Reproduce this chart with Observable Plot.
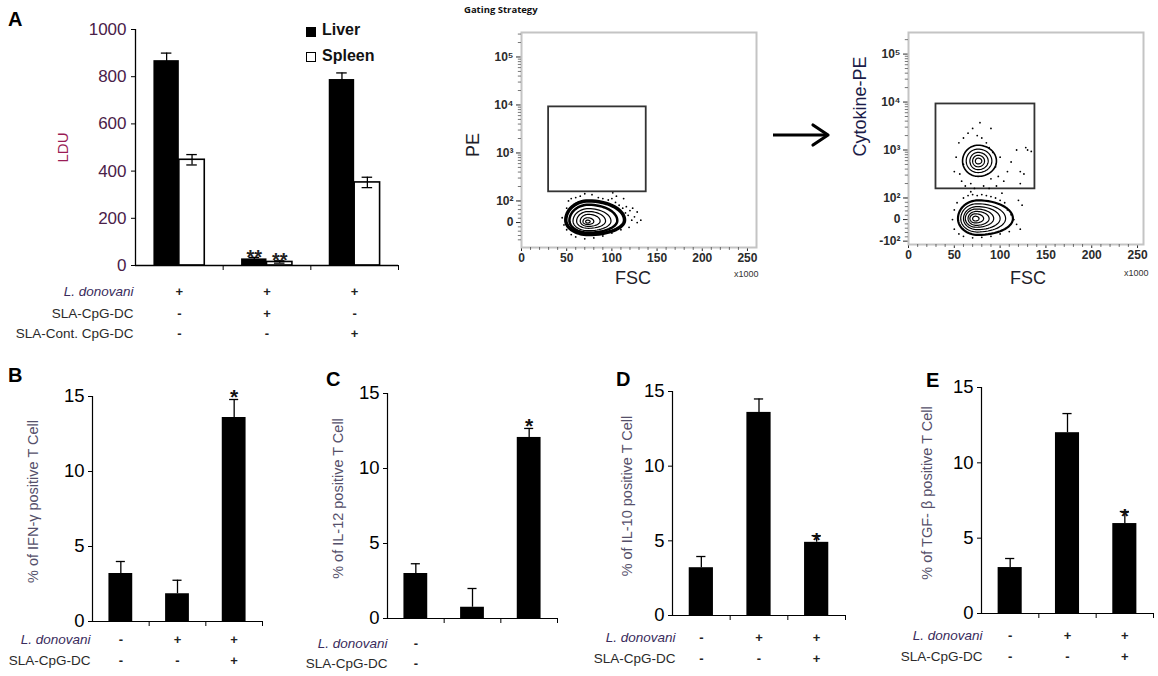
<!DOCTYPE html>
<html><head><meta charset="utf-8">
<script src="https://cdn.jsdelivr.net/npm/d3@7"></script>
<script src="https://cdn.jsdelivr.net/npm/@observablehq/plot@0.6"></script>
<style>
body{margin:0;background:#fff;}
#root{position:relative;width:1158px;height:676px;overflow:hidden;background:#fff;font-family:Arial,"Liberation Sans",sans-serif;}
.letter{position:absolute;font:bold 20px Arial,"Liberation Sans",sans-serif;line-height:20px;color:#000;}
</style></head><body><div id="root"></div>
<script>
// ---------------- DATA ----------------
// Panel A: LDU
const groupsA = ["G1", "G2", "G3"];
const liver = [868, 28, 788];
const liverErr = [32, 6, 28];
const spleen = [448, 15, 352];
const spleenErr = [22, 5, 22];
const sigA = ["", "**", ""];
const yTicksA = [0, 200, 400, 600, 800, 1000];
const rowLabelsA = ["L. donovani", "SLA-CpG-DC", "SLA-Cont. CpG-DC"];
const signsA = [["+", "+", "+"], ["-", "+", "-"], ["-", "-", "+"]];

// Panels B-E: % positive T cells
const ifng = [3.2, 1.85, 13.6];
const ifngErr = [0.8, 0.9, 1.2];
const il12 = [3.0, 0.75, 12.07];
const il12Err = [0.65, 1.25, 0.6];
const il10 = [3.2, 13.6, 4.9];
const il10Err = [0.75, 0.9, 0.45];
const tgfb = [3.05, 12.0, 5.97];
const tgfbErr = [0.6, 1.27, 0.8];
const sigCyt = ["", "", "*"];
const sigD = ["", "", "*"];
const yTicksCyt = [0, 5, 10, 15];
const rowLabelsCyt = ["L. donovani", "SLA-CpG-DC"];
const signsCyt = [["-", "+", "+"], ["-", "-", "+"]];
const signsC = [["-", "", ""], ["-", "", ""]];

// Gating strategy (FSC x1000 vs PE, display units: 0 -> 0, 10^2 -> 0.45, one unit per decade)
const fscTicks = [0, 50, 100, 150, 200, 250];
const peTickVals = [-0.45, 0, 0.45, 1.45, 2.45, 3.45];
const peTickText = ["-10²", "0", "10²", "10³", "10⁴", "10⁵"];
const gate = {x1: 30, x2: 138, y1: 0.64, y2: 2.41};
// contour rings: [cx, cy, rxLeft, rxRight, ryBottom, ryTop, strokeWidth]
const p1Rings = [
  [74, 0.05, 25, 40, 0.30, 0.40, 3.5],
  [74, 0.04, 21, 32, 0.25, 0.33, 2.5],
  [74, 0.03, 17, 25, 0.20, 0.26, 1.2],
  [74, 0.03, 13, 19, 0.15, 0.20, 1.2],
  [74, 0.03, 9, 13, 0.11, 0.14, 1.2],
  [73, 0.02, 5, 7, 0.06, 0.08, 1.2],
  [73, 0.02, 2, 3, 0.03, 0.03, 1.2]
];
const p1Scatter = [[45,0.1],[47,-0.05],[50,0.3],[52,0.45],[55,0.5],[60,0.52],[65,0.55],[70,0.6],[78,0.58],[85,0.52],[90,0.5],[96,0.47],[100,0.5],[104,0.42],[108,0.36],[112,0.3],[115,0.2],[118,0.15],[120,0.25],[122,0.05],[125,0.12],[128,0.0],[132,0.05],[119,-0.1],[110,-0.15],[100,-0.22],[90,-0.28],[80,-0.32],[70,-0.34],[60,-0.3],[55,-0.25],[50,-0.15],[105,0.55],[113,0.5],[128,0.22],[101,0.62],[116,0.33],[123,0.3]];
const p2UpperRings = [
  [76, 1.22, 17, 20, 0.32, 0.33, 1.6],
  [76, 1.22, 13, 15, 0.24, 0.25, 1.2],
  [76, 1.22, 9, 11, 0.18, 0.18, 1.2],
  [76, 1.22, 6, 7, 0.12, 0.12, 1.2],
  [76, 1.22, 3, 4, 0.06, 0.06, 1.2]
];
const p2LowerRings = [
  [76, 0.02, 22, 38, 0.34, 0.38, 2.2],
  [75, 0.02, 18, 31, 0.28, 0.31, 1.2],
  [75, 0.02, 15, 25, 0.23, 0.25, 1.2],
  [74, 0.02, 12, 19, 0.18, 0.2, 1.2],
  [74, 0.02, 9, 14, 0.14, 0.15, 1.2],
  [73, 0.02, 6, 9, 0.09, 0.1, 1.2],
  [73, 0.02, 3, 4, 0.05, 0.05, 1.2]
];
const p2Scatter = [[50,1.0],[52,1.3],[55,1.6],[58,0.8],[60,1.7],[62,0.7],[65,1.8],[68,0.75],[70,1.9],[72,0.65],[75,1.75],[78,2.02],[80,1.7],[82,0.7],[85,1.6],[88,1.5],[90,0.85],[92,1.4],[95,1.1],[98,0.9],[100,1.3],[104,0.8],[108,1.0],[112,1.2],[118,1.45],[122,0.75],[126,0.95],[130,1.45],[134,1.42],[128,1.5],[96,0.7],[88,0.65],[60,1.15],[56,0.95],[90,1.9],[122,1.0],
  [48,0.0],[50,0.2],[50,-0.2],[53,0.35],[55,-0.3],[60,0.45],[65,0.5],[70,0.52],[75,0.5],[80,0.52],[85,0.5],[90,0.48],[95,0.45],[100,0.4],[105,0.35],[108,0.2],[112,0.1],[115,0.0],[118,-0.1],[122,-0.2],[110,-0.25],[100,-0.3],[90,-0.35],[80,-0.37],[70,-0.38],[60,-0.35],[124,0.3],[120,0.4],[102,0.55],[68,0.58]];

// ---------------- HELPERS ----------------
const root = document.getElementById("root");
const FONT = "Arial, 'Liberation Sans', sans-serif";
function put(node, left, top) {
  node.style.position = "absolute";
  node.style.left = left + "px";
  node.style.top = top + "px";
  root.appendChild(node);
  return node;
}
function label(text, left, top, css) {
  const el = document.createElement("div");
  el.textContent = text;
  el.style.cssText = "position:absolute;white-space:nowrap;left:" + left + "px;top:" + top + "px;" + (css || "");
  root.appendChild(el);
  return el;
}
function colorTickLabels(svg, color) {
  svg.querySelectorAll('[aria-label$="tick label"]').forEach(g => g.setAttribute("fill", color));
}

// ---------------- PANEL A ----------------
(function () {
  const bw = 0.29, cap = 0.06;
  const liv = liver.map((v, i) => ({i, v, e: liverErr[i], s: sigA[i], x1: i + 0.5 - bw, x2: i + 0.5}));
  const spl = spleen.map((v, i) => ({i, v, e: spleenErr[i], s: sigA[i], x1: i + 0.5, x2: i + 0.5 + bw}));
  const both = liv.concat(spl);
  const mid = d => (d.x1 + d.x2) / 2;
  const rowDy = [26, 48, 68];
  const marks = [
    Plot.rect(liv, {x1: "x1", x2: "x2", y1: () => 0, y2: "v", fill: "#000"}),
    Plot.rect(spl, {x1: "x1", x2: "x2", y1: () => 0, y2: "v", fill: "#fff", stroke: "#000", strokeWidth: 1.6}),
    Plot.ruleX(both, {x: mid, y1: d => d.v - d.e, y2: d => d.v + d.e, stroke: "#000", strokeWidth: 1.3}),
    Plot.ruleY(both, {y: d => d.v + d.e, x1: d => mid(d) - cap, x2: d => mid(d) + cap, stroke: "#000", strokeWidth: 1.3}),
    Plot.ruleY(spl, {y: d => d.v - d.e, x1: d => mid(d) - cap, x2: d => mid(d) + cap, stroke: "#000", strokeWidth: 1.3}),
    Plot.ruleX([0], {stroke: "#000", strokeWidth: 1.3}),
    Plot.ruleY([0], {stroke: "#000", strokeWidth: 1.3}),
    Plot.text(both.filter(d => d.s), {x: mid, y: d => d.v + d.e, text: "s", dy: 0, fontSize: 20, fontWeight: "bold", fill: "#222"}),
    Plot.text(["LDU"], {x: () => 0, y: () => 500, text: d => d, dx: -72, rotate: -90, fontSize: 15, fill: "#9a1c55"})
  ];
  rowLabelsA.forEach((lab, r) => {
    marks.push(Plot.text([lab], {x: () => 0, y: () => 0, text: d => d, dx: -2, dy: rowDy[r], textAnchor: "end", fontSize: 13.5,
      fontStyle: r === 0 ? "italic" : "normal", fill: r === 0 ? "#3a2c5c" : "#2a2a2a"}));
    marks.push(Plot.text(signsA[r], {x: (d, i) => i + 0.5, y: () => 0, text: d => d, dy: rowDy[r], fontSize: 13, fontWeight: "bold", fill: "#222"}));
  });
  const svg = Plot.plot({
    width: 418, height: 345, marginLeft: 135, marginTop: 29, marginRight: 20, marginBottom: 80,
    x: {domain: [0, 3], ticks: [1, 2, 3], tickSize: 5, tickFormat: () => "", label: null},
    y: {domain: [0, 1000], ticks: yTicksA, tickFormat: d => String(d), tickSize: 4, tickPadding: 5, label: null},
    style: {fontFamily: FONT, fontSize: "17px", background: "transparent", overflow: "visible", color: "#000"},
    marks
  });
  colorTickLabels(svg, "#4a2048");
  put(svg, 0, 0);
  // legend
  const sq1 = document.createElement("div");
  sq1.style.cssText = "width:10px;height:10px;background:#000;";
  put(sq1, 306, 27);
  const sq2 = document.createElement("div");
  sq2.style.cssText = "width:10px;height:10px;background:#fff;border:1.5px solid #000;box-sizing:border-box;";
  put(sq2, 306, 52);
  label("Liver", 322, 22, "font:bold 16px " + FONT + ";line-height:16px;color:#111;");
  label("Spleen", 322, 48, "font:bold 16px " + FONT + ";line-height:16px;color:#111;");
  const a = label("A", 8, 9, ""); a.className = "letter";
})();

// ---------------- GATING ----------------
label("Gating Strategy", 464, 3, "font:bold 9.5px 'Open Sans'," + FONT + ";color:#111;");

function gatePlot(o) {
  const marks = [
    Plot.frame({stroke: "#c4c4c4", strokeWidth: 2}),
    Plot.ruleX(d3.range(10, 260, 10).filter(v => v % 50 !== 0 && v <= o.xMax), {x: d => d, y1: () => o.yMin, y2: () => o.yMin - 0.06, stroke: "#666"})
  ];
  // minor PE ticks (log decades and linear region)
  const minor = [];
  for (let n = 0; n < 4; n++) for (let k = 2; k <= 9; k++) {
    const d = 0.45 + n + Math.log10(k);
    if (d < o.yMax) minor.push(d);
  }
  for (let d = -0.36; d < 0.45; d += 0.09) if (Math.abs(d) > 0.01 && d > o.yMin) minor.push(d);
  marks.push(Plot.ruleY(minor, {y: d => d, x1: () => -3.5, x2: () => 0, stroke: "#777"}));
  marks.push(Plot.rect([gate], {x1: "x1", x2: "x2", y1: "y1", y2: "y2", fill: "none", stroke: "#333", strokeWidth: 1.8}));
  marks.push(Plot.dot(o.scatter, {x: d => d[0], y: d => d[1], r: 0.9, fill: "#000", stroke: "none"}));
  o.rings.forEach(r => {
    const [cx, cy, rxL, rxR, ryB, ryT, w] = r;
    const pts = d3.range(0, 65).map(a => {
      const t = a / 64 * 2 * Math.PI, c = Math.cos(t), s = Math.sin(t);
      return {x: cx + (c >= 0 ? rxR : rxL) * c, y: cy + (s >= 0 ? ryT : ryB) * s};
    });
    marks.push(Plot.line(pts, {x: "x", y: "y", stroke: "#000", strokeWidth: w}));
  });
  marks.push(Plot.text([o.ylabel], {frameAnchor: "left", text: d => d, dx: -48, dy: o.ylabelDy, rotate: -90, fontSize: 18, fontWeight: "normal", fill: o.ylabelColor}));
  marks.push(Plot.text(["FSC"], {frameAnchor: "bottom", text: d => d, dx: o.fscDx, dy: o.fscDy, fontSize: 18, fontWeight: "normal", fill: "#1e1e2a"}));
  marks.push(Plot.text(["x1000"], {frameAnchor: "bottom-right", text: d => d, textAnchor: "end", dx: o.kDx, dy: o.kDy, fontSize: 9, fontWeight: "normal", fill: "#333"}));
  const map = new Map(peTickVals.map((v, i) => [v, peTickText[i]]));
  const svg = Plot.plot({
    width: o.mL + o.innerW + o.mR, height: 12 + o.innerH + 45,
    marginLeft: o.mL, marginTop: 12, marginRight: o.mR, marginBottom: 45,
    x: {domain: [0, o.xMax], ticks: fscTicks, tickSize: 4, tickPadding: 2, label: null},
    y: {domain: [o.yMin, o.yMax], ticks: peTickVals.filter(v => v >= o.minTick), tickFormat: d => map.get(d), tickSize: 5, tickPadding: 3, label: null},
    style: {fontFamily: FONT, fontSize: "12px", fontWeight: "bold", background: "transparent", overflow: "visible", color: "#2b2b2b"},
    marks
  });
  put(svg, o.left, o.top);
}
gatePlot({left: 460, top: 20, mL: 61, mR: 14, innerW: 235, innerH: 215, xMax: 260, yMin: -0.52, yMax: 3.96, minTick: 0,
  rings: p1Rings, scatter: p1Scatter, ylabel: "PE", ylabelDy: 17, ylabelColor: "#1e1e2a",
  fscDx: -6, fscDy: 36, kDx: 2, kDy: 29});
gatePlot({left: 840, top: 20, mL: 68, mR: 15, innerW: 235, innerH: 212, xMax: 256.5, yMin: -0.52, yMax: 3.9, minTick: -0.5,
  rings: p2UpperRings.concat(p2LowerRings), scatter: p2Scatter, ylabel: "Cytokine-PE", ylabelDy: 18, ylabelColor: "#1c1c48",
  fscDx: 2, fscDy: 39, kDx: 5, kDy: 31});
// arrow
(function () {
  const ns = "http://www.w3.org/2000/svg";
  const s = document.createElementNS(ns, "svg");
  s.setAttribute("width", 60); s.setAttribute("height", 30);
  s.innerHTML = '<line x1="0" y1="15" x2="54" y2="15" stroke="#000" stroke-width="3.2"/>' +
    '<polyline points="40,5 55,15 40,25" fill="none" stroke="#000" stroke-width="3.2" stroke-linecap="round" stroke-linejoin="round"/>';
  put(s, 773, 120);
})();

// ---------------- PANELS B-E ----------------
function cytPanel(o) {
  const bw = 0.21, cap = 0.08;
  const data = o.vals.map((v, i) => ({i, v, e: o.errs[i], s: o.sig[i]}));
  const marks = [
    Plot.rect(data, {x1: d => d.i + 0.5 - bw, x2: d => d.i + 0.5 + bw, y1: () => 0, y2: "v", fill: "#000"}),
    Plot.ruleX(data, {x: d => d.i + 0.5, y1: "v", y2: d => d.v + d.e, stroke: "#000", strokeWidth: 1.3}),
    Plot.ruleY(data, {y: d => d.v + d.e, x1: d => d.i + 0.5 - cap, x2: d => d.i + 0.5 + cap, stroke: "#000", strokeWidth: 1.3}),
    Plot.ruleX([0], {stroke: "#000", strokeWidth: 1.2}),
    Plot.ruleY([0], {stroke: "#000", strokeWidth: 1.2}),
    Plot.text(data.filter(d => d.s), {x: d => d.i + 0.5, y: d => d.v + d.e, text: "s", dy: o.starDy, fontSize: 21, fontWeight: "bold", fill: "#111"}),
    Plot.text([o.label], {x: () => 0, y: () => 8, text: d => d, dx: -o.labelDx, rotate: -90, fontSize: 14.5, fill: "#55506a"})
  ];
  rowLabelsCyt.forEach((lab, r) => {
    marks.push(Plot.text([lab], {x: () => 0, y: () => 0, text: d => d, dx: o.rowDx, dy: o.rowDy[r], textAnchor: "end", fontSize: 13.5,
      fontStyle: r === 0 ? "italic" : "normal", fill: r === 0 ? "#3a2c5c" : "#2a2a2a"}));
    marks.push(Plot.text(o.signs[r], {x: (d, i) => i + 0.5, y: () => 0, text: d => d, dy: o.rowDy[r], fontSize: 13, fontWeight: "bold", fill: "#222"}));
  });
  const svg = Plot.plot({
    width: o.mL + o.innerW + o.mR, height: 40 + o.innerH + 55,
    marginLeft: o.mL, marginTop: 40, marginRight: o.mR, marginBottom: 55,
    x: {domain: [0, 3], ticks: [1, 2, 3], tickSize: 5, tickFormat: () => "", label: null},
    y: {domain: [0, 15], ticks: yTicksCyt, tickSize: 4, tickPadding: 4, label: null},
    style: {fontFamily: FONT, fontSize: "18.5px", background: "transparent", overflow: "visible", color: "#000"},
    marks
  });
  put(svg, o.left, o.top);
  const L = label(o.letter, o.letterX, o.letterY, ""); L.className = "letter";
}
cytPanel({left: 0, top: 356, mL: 92, mR: 12, innerW: 170, innerH: 225, vals: ifng, errs: ifngErr, sig: sigCyt,
  label: "% of IFN-γ positive T Cell", labelDx: 59, rowDx: -2, rowDy: [18, 39], signs: signsCyt, starDy: -2,
  letter: "B", letterX: 8, letterY: 365});
cytPanel({left: 290, top: 353, mL: 97, mR: 12, innerW: 170, innerH: 225, vals: il12, errs: il12Err, sig: sigCyt,
  label: "% of IL-12 positive T Cell", labelDx: 49, rowDx: 0, rowDy: [25, 45], signs: signsC, starDy: -2,
  letter: "C", letterX: 326, letterY: 369});
cytPanel({left: 575, top: 351, mL: 97, mR: 12, innerW: 173, innerH: 224, vals: il10, errs: il10Err, sig: sigD,
  label: "% of IL-10 positive T Cell", labelDx: 45, rowDx: 3, rowDy: [22, 43], signs: signsCyt, starDy: 5,
  letter: "D", letterX: 616, letterY: 369});
cytPanel({left: 880, top: 347, mL: 101, mR: 5, innerW: 172, innerH: 226, vals: tgfb, errs: tgfbErr, sig: sigD,
  label: "% of TGF- β positive T Cell", labelDx: 54, rowDx: 1, rowDy: [22, 43], signs: signsCyt, starDy: 5,
  letter: "E", letterX: 926, letterY: 370});
</script>
</body></html>
